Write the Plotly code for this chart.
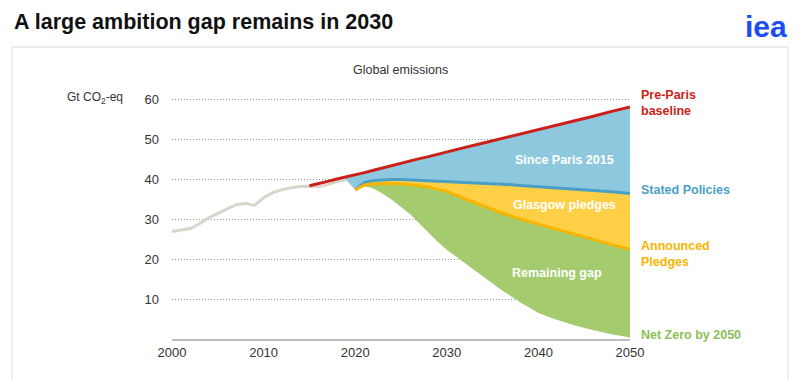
import plotly.graph_objects as go

# ---------------- data ----------------
hist_years = list(range(2000, 2020))
hist_vals = [26.9, 27.2, 27.6, 28.8, 30.3, 31.4, 32.5, 33.6, 33.9, 33.4,
             35.3, 36.6, 37.3, 37.8, 38.1, 38.2, 38.1, 38.6, 39.4, 39.8]

base_years = [2015, 2016, 2017, 2018, 2019, 2020, 2021, 2022, 2023, 2024, 2025, 2026,
              2027, 2028, 2029, 2030, 2032, 2034, 2036, 2038, 2040, 2042, 2044, 2046, 2048, 2050]
base_vals = [38.3, 38.8, 39.4, 40.0, 40.5, 41.0, 41.6, 42.2, 42.8, 43.3, 43.9, 44.5,
             45.1, 45.6, 46.2, 46.8, 47.9, 49.0, 50.1, 51.2, 52.3, 53.5, 54.6, 55.7, 56.9, 58.0]

sc_years = [2020, 2021, 2022, 2023, 2024, 2025, 2026, 2027, 2028, 2029, 2030,
            2032, 2034, 2036, 2038, 2040, 2042, 2044, 2046, 2048, 2050]
stated_vals = [37.3, 39.1, 39.6, 39.8, 39.9, 39.9, 39.8, 39.7, 39.6, 39.5, 39.4,
               39.2, 38.9, 38.7, 38.4, 38.1, 37.8, 37.5, 37.2, 36.8, 36.4]
announced_vals = [37.3, 38.5, 38.8, 38.9, 38.9, 38.8, 38.6, 38.3, 38.0, 37.5, 36.9,
                  35.0, 33.2, 31.5, 30.0, 28.7, 27.4, 26.1, 24.8, 23.6, 22.4]
netzero_vals = [37.3, 38.2, 37.6, 36.3, 34.8, 33.0, 31.2, 29.0, 26.6, 24.3, 22.3,
                18.9, 15.5, 12.2, 9.2, 6.5, 4.8, 3.4, 2.2, 1.2, 0.4]

y_ticks = [10, 20, 30, 40, 50, 60]
x_ticks = [2000, 2010, 2020, 2030, 2040, 2050]

# ---------------- styling ----------------
FONT = "Arial, Liberation Sans, sans-serif"
C_RED = "#cc1f1a"
C_BLUE_FILL = "#8ec8de"
C_BLUE_LINE = "#4a9fc7"
C_YEL_FILL = "#ffcf45"
C_YEL_LINE = "#f7b500"
C_GRN_FILL = "#a4cc6e"
C_GRN_TXT = "#8dbf58"
C_HIST = "#d9d5c9"

L, R, T, B = 172, 170, 79, 41
W, H = 800, 380
PW, PH = W - L - R, H - T - B


def px(x):
    return (x - L) / PW


def py(y):
    return (H - B - y) / PH


fig = go.Figure()

# blue fill: baseline (from last historical year) down to stated policies
bx = [y for y in base_years if y >= hist_years[-1]]
bv = [v for y, v in zip(base_years, base_vals) if y >= hist_years[-1]]
fig.add_trace(go.Scatter(
    x=bx + sc_years[::-1] + [hist_years[-1]],
    y=bv + stated_vals[::-1] + [hist_vals[-1]],
    fill="toself", fillcolor=C_BLUE_FILL, line=dict(width=0), mode="lines",
    hoverinfo="skip", showlegend=False))
# yellow fill: stated down to announced
fig.add_trace(go.Scatter(
    x=sc_years + sc_years[::-1], y=stated_vals + announced_vals[::-1],
    fill="toself", fillcolor=C_YEL_FILL, line=dict(width=0), mode="lines",
    hoverinfo="skip", showlegend=False))
# green fill: announced down to net zero
fig.add_trace(go.Scatter(
    x=sc_years + sc_years[::-1], y=announced_vals + netzero_vals[::-1],
    fill="toself", fillcolor=C_GRN_FILL, line=dict(width=0), mode="lines",
    hoverinfo="skip", showlegend=False))

# lines
fig.add_trace(go.Scatter(x=hist_years, y=hist_vals, mode="lines",
                         line=dict(color=C_HIST, width=3), showlegend=False))
fig.add_trace(go.Scatter(x=sc_years, y=stated_vals, mode="lines",
                         line=dict(color=C_BLUE_LINE, width=3), showlegend=False))
fig.add_trace(go.Scatter(x=sc_years, y=announced_vals, mode="lines",
                         line=dict(color=C_YEL_LINE, width=3), showlegend=False))
fig.add_trace(go.Scatter(x=base_years, y=base_vals, mode="lines",
                         line=dict(color=C_RED, width=3), showlegend=False))

annotations = [
    dict(x=px(12), y=py(22), xref="paper", yref="paper", xanchor="left", yanchor="middle",
         text="<b>A large ambition gap remains in 2030</b>", showarrow=False,
         font=dict(family=FONT, size=21.5, color="#111111")),
    dict(x=px(789), y=py(26), xref="paper", yref="paper", xanchor="right", yanchor="middle",
         text="<b>iea</b>", showarrow=False,
         font=dict(family="Arial Rounded MT Bold, Liberation Sans, sans-serif", size=30, color="#1b4ef2")),
    dict(x=px(400), y=py(70), xref="paper", yref="paper", xanchor="center", yanchor="middle",
         text="Global emissions", showarrow=False,
         font=dict(family=FONT, size=12.5, color="#333333")),
    dict(x=px(65), y=py(98), xref="paper", yref="paper", xanchor="left", yanchor="middle",
         text="Gt CO<sub>2</sub>-eq", showarrow=False,
         font=dict(family=FONT, size=12, color="#333333")),
    dict(x=px(639), y=py(103), xref="paper", yref="paper", xanchor="left", yanchor="middle",
         text="<b>Pre-Paris<br>baseline</b>", showarrow=False, align="left",
         font=dict(family=FONT, size=12.5, color=C_RED)),
    dict(x=px(639), y=py(190), xref="paper", yref="paper", xanchor="left", yanchor="middle",
         text="<b>Stated Policies</b>", showarrow=False,
         font=dict(family=FONT, size=12.5, color=C_BLUE_LINE)),
    dict(x=px(639), y=py(254), xref="paper", yref="paper", xanchor="left", yanchor="middle",
         text="<b>Announced<br>Pledges</b>", showarrow=False, align="left",
         font=dict(family=FONT, size=12.5, color=C_YEL_LINE)),
    dict(x=px(639), y=py(335), xref="paper", yref="paper", xanchor="left", yanchor="middle",
         text="<b>Net Zero by 2050</b>", showarrow=False,
         font=dict(family=FONT, size=12.5, color=C_GRN_TXT)),
    dict(x=2042.9, y=44.7, xref="x", yref="y", text="<b>Since Paris 2015</b>", showarrow=False,
         font=dict(family=FONT, size=12.5, color="white")),
    dict(x=2042.9, y=33.5, xref="x", yref="y", text="<b>Glasgow pledges</b>", showarrow=False,
         font=dict(family=FONT, size=12.5, color="white")),
    dict(x=2042.0, y=16.5, xref="x", yref="y", text="<b>Remaining gap</b>", showarrow=False,
         font=dict(family=FONT, size=12.5, color="white")),
]

shapes = [
    dict(type="rect", xref="paper", yref="paper", x0=px(12), x1=px(788), y0=py(392), y1=py(47),
         line=dict(color="#e6e6e6", width=1.5), fillcolor="rgba(0,0,0,0)", layer="below"),
]

fig.update_layout(
    width=W, height=H,
    margin=dict(l=L, r=R, t=T, b=B),
    paper_bgcolor="white", plot_bgcolor="white",
    font=dict(family=FONT, size=13, color="#333333"),
    annotations=annotations, shapes=shapes,
    showlegend=False,
    xaxis=dict(range=[2000, 2050], tickvals=x_ticks, showgrid=False, zeroline=False,
               showline=True, linecolor="#bdbdbd", linewidth=2, ticks="",
               tickfont=dict(family=FONT, size=13, color="#333333"), fixedrange=True),
    yaxis=dict(range=[0, 65], tickvals=y_ticks, showgrid=True, gridcolor="#8f8f8f",
               griddash="1px,2px", gridwidth=1, zeroline=False, showline=False, ticks="",
               ticklabelstandoff=12,
               tickfont=dict(family=FONT, size=13, color="#333333"), fixedrange=True),
)

fig.write_html("out.html", config={"displayModeBar": False},
               post_script="document.body.style.margin='0';")
